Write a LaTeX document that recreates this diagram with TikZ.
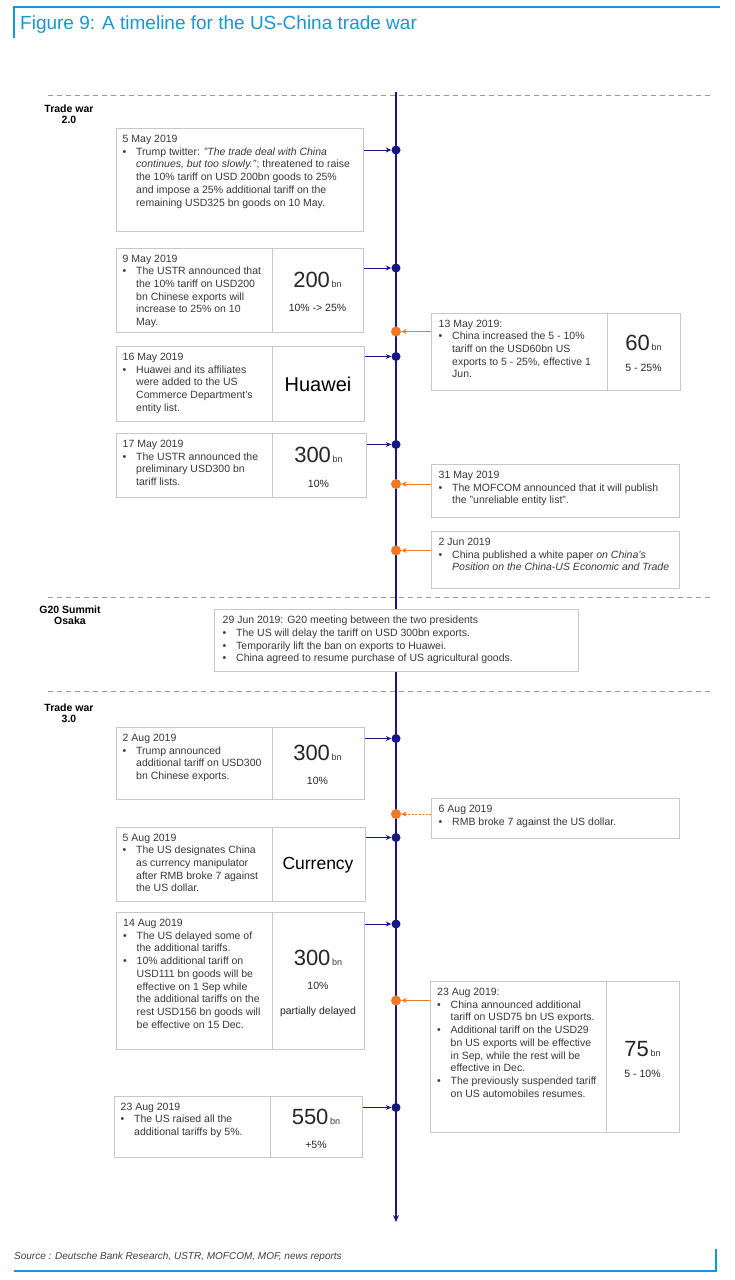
\documentclass[tikz,border=0pt]{standalone}
\usepackage{fontspec}
\setmainfont{Liberation Sans}
\usetikzlibrary{arrows.meta,calc}
\definecolor{navy}{RGB}{22,22,132}
\definecolor{dborange}{RGB}{240,120,40}
\definecolor{figblue}{RGB}{25,150,210}
\colorlet{boxgray}{black!22}
\colorlet{txtgray}{black!78}
\newcommand{\itm}{\makebox[13.5pt][l]{\textbullet}}
\newcommand{\cnt}{\hspace*{13.5pt}}
\newcommand{\amount}[1]{{\fontsize{22}{22}\selectfont #1}\,{\fontsize{9}{9}\selectfont\color{txtgray}bn}}

\begin{document}
\begin{tikzpicture}[x=1pt,y=-1pt,
  evbox/.style={draw=boxgray,line width=1pt,fill=white,inner sep=0,anchor=north west},
  txt/.style={anchor=north west,align=left,inner sep=0,text=txtgray,font=\fontsize{10.5}{12.7}\selectfont},
  val/.style={align=center,inner sep=0,text=black!85,font=\fontsize{10.5}{12}\selectfont},
  phase/.style={align=center,inner sep=0,font=\bfseries\fontsize{10.5}{11}\selectfont},
  sep/.style={black!40,line width=1pt,dash pattern=on 5pt off 4pt},
  bdot/.style={circle,fill=navy,inner sep=0,minimum size=9pt},
  odot/.style={circle,fill=dborange,inner sep=0,minimum size=10pt},
  barr/.style={navy,line width=0.9pt,-{Stealth[length=5.5pt,width=5pt]}},
  oarr/.style={dborange,line width=0.9pt,-{Stealth[length=5.5pt,width=5pt]}},
  frame/.style={figblue,line width=1.5pt}]
\useasboundingbox[fill=white] (0,0) rectangle (735,1280);

% frame and title
\draw[frame] (14,38) -- (14,7) -- (720,7);
\draw[frame] (14,1271) -- (716,1271) -- (716,1249);
\node[anchor=west,inner sep=0,text=figblue,font=\fontsize{19}{22}\selectfont] (title) at (20,25) {Figure 9: A timeline for the US-China trade war};
\node[anchor=west,inner sep=0,text=black!75,font=\itshape\fontsize{10}{12}\selectfont] (source) at (14,1257) {Source : Deutsche Bank Research, USTR, MOFCOM, MOF, news reports};

% phases
\foreach \y in {95,597,691}
  \draw[sep] (48,\y) -- (710,\y);
\node[phase] (p2) at (69,114) {Trade war\\2.0};
\node[phase] (pg) at (70,615.5) {G20 Summit\\Osaka};
\node[phase] (p3) at (69,713) {Trade war\\3.0};

% timeline
\coordinate (tltop) at (396,92);
\coordinate (tlbot) at (396,1222);
\draw[navy,line width=2pt,-{Stealth[length=7pt,width=6pt]}] (tltop) -- (tlbot);

% US side
\node[evbox,minimum width=247pt,minimum height=103pt] (b1) at (115.5,128) {};
\node[txt] (t1) at ($(b1.north west)+(7,7)$) {5 May 2019\\
\itm Trump twitter: \textit{"The trade deal with China}\\
\cnt\textit{continues, but too slowly."}; threatened to raise\\
\cnt the 10\% tariff on USD 200bn goods to 25\%\\
\cnt and impose a 25\% additional tariff on the\\
\cnt remaining USD325 bn goods on 10 May.};

\node[evbox,minimum width=247pt,minimum height=84.5pt] (b2) at (115.5,247.5) {};
\draw[boxgray,line width=1pt] ([xshift=156.5pt]b2.north west) -- ([xshift=156.5pt]b2.south west);
\node[txt] (t2) at ($(b2.north west)+(7,7)$) {9 May 2019\\
\itm The USTR announced that\\
\cnt the 10\% tariff on USD200\\
\cnt bn Chinese exports will\\
\cnt increase to 25\% on 10\\
\cnt May.};
\node[val] (v2a) at (317.5,280) {\amount{200}};
\node[val] (v2b) at (317.5,307.5) {10\% -> 25\%};

\node[evbox,minimum width=248.5pt,minimum height=74.5pt] (b3) at (115.5,346) {};
\draw[boxgray,line width=1pt] ([xshift=156.5pt]b3.north west) -- ([xshift=156.5pt]b3.south west);
\node[txt] (t3) at ($(b3.north west)+(7,7)$) {16 May 2019\\
\itm Huawei and its affiliates\\
\cnt were added to the US\\
\cnt Commerce Department's\\
\cnt entity list.};
\node[val,font=\fontsize{20}{20}\selectfont,text=black] (v3) at (318,384) {Huawei};

\node[evbox,minimum width=250pt,minimum height=64pt] (b4) at (115.5,433) {};
\draw[boxgray,line width=1pt] ([xshift=156.5pt]b4.north west) -- ([xshift=156.5pt]b4.south west);
\node[txt] (t4) at ($(b4.north west)+(7,7)$) {17 May 2019\\
\itm The USTR announced the\\
\cnt preliminary USD300 bn\\
\cnt tariff lists.};
\node[val] (v4a) at (318.5,455) {\amount{300}};
\node[val] (v4b) at (318.5,484) {10\%};

\node[evbox,minimum width=248pt,minimum height=71.5pt] (b5) at (115.5,727) {};
\draw[boxgray,line width=1pt] ([xshift=156.5pt]b5.north west) -- ([xshift=156.5pt]b5.south west);
\node[txt] (t5) at ($(b5.north west)+(7,7)$) {2 Aug 2019\\
\itm Trump announced\\
\cnt additional tariff on USD300\\
\cnt bn Chinese exports.};
\node[val] (v5a) at (317.5,752.5) {\amount{300}};
\node[val] (v5b) at (317.5,781) {10\%};

\node[evbox,minimum width=249pt,minimum height=74pt] (b6) at (115.5,826.5) {};
\draw[boxgray,line width=1pt] ([xshift=156.5pt]b6.north west) -- ([xshift=156.5pt]b6.south west);
\node[txt] (t6) at ($(b6.north west)+(7,7)$) {5 Aug 2019\\
\itm The US designates China\\
\cnt as currency manipulator\\
\cnt after RMB broke 7 against\\
\cnt the US dollar.};
\node[val,font=\fontsize{17.5}{18}\selectfont,text=black] (v6) at (318,865) {Currency};

\node[evbox,minimum width=248pt,minimum height=137pt] (b7) at (116,912) {};
\draw[boxgray,line width=1pt] ([xshift=156pt]b7.north west) -- ([xshift=156pt]b7.south west);
\node[txt] (t7) at ($(b7.north west)+(7,7)$) {14 Aug 2019\\
\itm The US delayed some of\\
\cnt the additional tariffs.\\
\itm 10\% additional tariff on\\
\cnt USD111 bn goods will be\\
\cnt effective on 1 Sep while\\
\cnt the additional tariffs on the\\
\cnt rest USD156 bn goods will\\
\cnt be effective on 15 Dec.};
\node[val] (v7a) at (318,958) {\amount{300}};
\node[val] (v7b) at (318,986) {10\%};
\node[val] (v7c) at (318,1012) {partially delayed};

\node[evbox,minimum width=248pt,minimum height=61pt] (b8) at (113.5,1095.5) {};
\draw[boxgray,line width=1pt] ([xshift=157pt]b8.north west) -- ([xshift=157pt]b8.south west);
\node[txt] (t8) at ($(b8.north west)+(7,7)$) {23 Aug 2019\\
\itm The US raised all the\\
\cnt additional tariffs by 5\%.};
\node[val] (v8a) at (316,1117) {\amount{550}};
\node[val] (v8b) at (316,1144.5) {+5\%};

% China side
\node[evbox,minimum width=249pt,minimum height=77pt] (ra) at (430.5,312.5) {};
\draw[boxgray,line width=1pt] ([xshift=176.5pt]ra.north west) -- ([xshift=176.5pt]ra.south west);
\node[txt] (sa) at ($(ra.north west)+(8,7)$) {13 May 2019:\\
\itm China increased the 5 - 10\%\\
\cnt tariff on the USD60bn US\\
\cnt exports to 5 - 25\%, effective 1\\
\cnt Jun.};
\node[val] (vaa) at (643.5,343) {\amount{60}};
\node[val] (vab) at (643.5,367.5) {5 - 25\%};

\node[evbox,minimum width=248pt,minimum height=53pt] (rb) at (431,464) {};
\node[txt] (sb) at ($(rb.north west)+(7.5,7)$) {31 May 2019\\
\itm The MOFCOM announced that it will publish\\
\cnt the "unreliable entity list".};

\node[evbox,minimum width=248pt,minimum height=57pt] (rc) at (431,531) {};
\node[txt] (sc) at ($(rc.north west)+(7.5,7)$) {2 Jun 2019\\
\itm China published a white paper \textit{on China's}\\
\cnt\textit{Position on the China-US Economic and Trade}};

\node[evbox,minimum width=248pt,minimum height=40pt] (rd) at (431,798) {};
\node[txt] (sd) at ($(rd.north west)+(7.5,7)$) {6 Aug 2019\\
\itm RMB broke 7 against the US dollar.};

\node[evbox,minimum width=249pt,minimum height=151pt] (re) at (429.5,981) {};
\draw[boxgray,line width=1pt] ([xshift=177pt]re.north west) -- ([xshift=177pt]re.south west);
\node[txt] (se) at ($(re.north west)+(7.5,7)$) {23 Aug 2019:\\
\itm China announced additional\\
\cnt tariff on USD75 bn US exports.\\
\itm Additional tariff on the USD29\\
\cnt bn US exports will be effective\\
\cnt in Sep, while the rest will be\\
\cnt effective in Dec.\\
\itm The previously suspended tariff\\
\cnt on US automobiles resumes.};
\node[val] (vea) at (642.5,1049) {\amount{75}};
\node[val] (veb) at (642.5,1074) {5 - 10\%};

% G20 meeting
\node[evbox,minimum width=364pt,minimum height=62pt] (g20) at (214,609) {};
\node[txt] (tg) at ($(g20.north west)+(8.5,7)$) {29 Jun 2019: G20 meeting between the two presidents\\
\itm The US will delay the tariff on USD 300bn exports.\\
\itm Temporarily lift the ban on exports to Huawei.\\
\itm China agreed to resume purchase of US agricultural goods.};

% events on the timeline
\node[bdot] (d1) at (396,150) {};
\node[bdot] (d2) at (396,268) {};
\node[bdot] (d3) at (396,356.5) {};
\node[bdot] (d4) at (396,444.5) {};
\node[bdot] (d5) at (396,738.5) {};
\node[bdot] (d6) at (396,837.5) {};
\node[bdot] (d7) at (396,924) {};
\node[bdot] (d8) at (396,1107.5) {};
\node[odot] (o1) at (396,331.5) {};
\node[odot] (o2) at (396,484) {};
\node[odot] (o3) at (396,550.5) {};
\node[odot] (o4) at (396,814) {};
\node[odot] (o5) at (396,1000.5) {};

\draw[barr] (b1.east |- d1) -- (d1);
\draw[barr] (b2.east |- d2) -- (d2);
\draw[barr] (b3.east |- d3) -- (d3);
\draw[barr] (b4.east |- d4) -- (d4);
\draw[barr] (b5.east |- d5) -- (d5);
\draw[barr] (b6.east |- d6) -- (d6);
\draw[barr] (b7.east |- d7) -- (d7);
\draw[barr] (b8.east |- d8) -- (d8);
\draw[oarr] (ra.west |- o1) -- (o1);
\draw[oarr] (rb.west |- o2) -- (o2);
\draw[oarr] (rc.west |- o3) -- (o3);
\draw[oarr,dash pattern=on 2pt off 1.5pt] (rd.west |- o4) -- (o4);
\draw[oarr] (re.west |- o5) -- (o5);
\end{tikzpicture}
\end{document}
